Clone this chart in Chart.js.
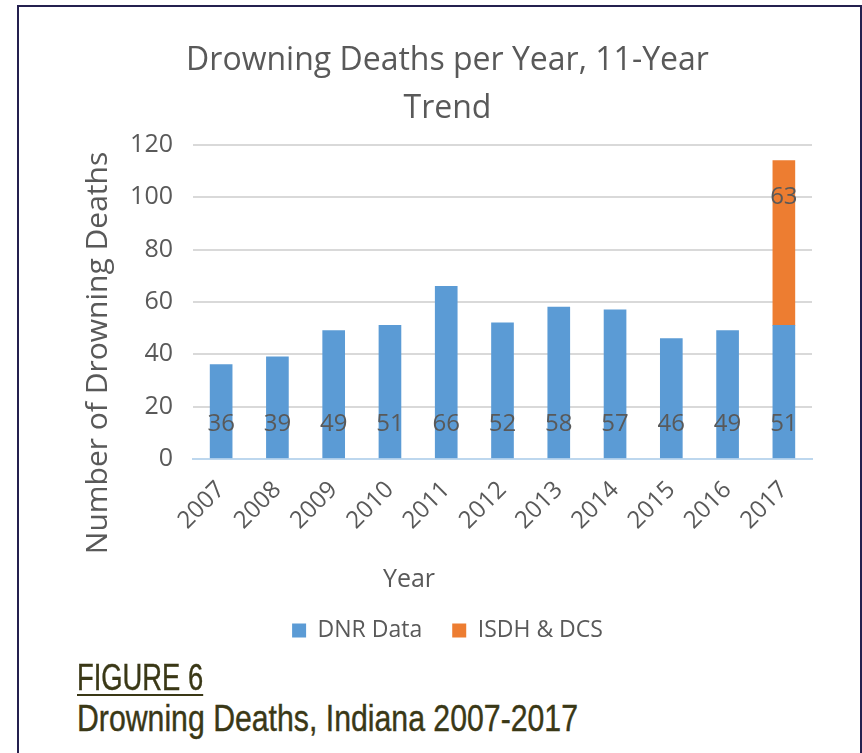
<!DOCTYPE html>
<html lang="en">
<head>
  <meta charset="UTF-8">
  <title>Drowning Deaths, Indiana 2007-2017</title>
  <script src="https://cdn.jsdelivr.net/npm/chart.js"></script>
  <style>
    html, body { margin: 0; padding: 0; background: #fff; overflow: hidden; }
    body { width: 862px; height: 753px; position: relative; }
    .frame {
      position: absolute; left: 17px; top: 5px; width: 845px; height: 800px;
      box-sizing: border-box; border: 2px solid #24204f;
    }
    .chart-box { position: absolute; left: 0; top: 0; width: 862px; height: 660px; }
    .fig-label, .fig-caption {
      position: absolute; left: 77px; margin: 0;
      font-family: "Liberation Sans Narrow", "Arial Narrow", "Liberation Sans", sans-serif;
      font-size: 36px; line-height: 1; color: #3a3816; white-space: nowrap;
      transform-origin: left top; -webkit-text-stroke: 0.4px #3a3816;
    }
    .fig-label {
      top: 660px; transform: scaleX(0.76);
      text-decoration: underline; text-decoration-thickness: 2px; text-underline-offset: 4px;
    }
    .fig-caption { top: 701px; transform: scaleX(0.84); }
  </style>
</head>
<body>
  <div class="frame"></div>
  <div class="chart-box">
    <canvas id="drowningChart"></canvas>
  </div>
  <p class="fig-label">FIGURE 6</p>
  <p class="fig-caption">Drowning Deaths, Indiana 2007-2017</p>

  <script>
    // yearly counts
    const years = ['2007', '2008', '2009', '2010', '2011', '2012', '2013', '2014', '2015', '2016', '2017'];
    const dnrData = [36, 39, 49, 51, 66, 52, 58, 57, 46, 49, 51];
    const isdhData = [null, null, null, null, null, null, null, null, null, null, 63];
    const yTicks = [0, 20, 40, 60, 80, 100, 120];

    const textGray = '#595959';
    const baseFont = '"Open Sans", "Noto Sans", sans-serif';

    // value labels: DNR near the bar base, ISDH near the top of its segment
    const valueLabels = {
      id: 'valueLabels',
      afterDatasetsDraw(chart) {
        const ctx = chart.ctx;
        ctx.save();
        ctx.font = '24px ' + baseFont;
        ctx.fillStyle = textGray;
        ctx.textAlign = 'center';
        ctx.textBaseline = 'middle';
        chart.data.datasets.forEach((ds, i) => {
          chart.getDatasetMeta(i).data.forEach((bar, j) => {
            const v = ds.data[j];
            if (v == null) return;
            const y = i === 0 ? bar.base - 34 : bar.y + 36;
            ctx.fillText(String(v), bar.x, y);
          });
        });
        ctx.restore();
      }
    };

    // axis titles, placed off-centre from the plot
    const axisTitles = {
      id: 'axisTitles',
      afterDraw(chart) {
        const ctx = chart.ctx;
        ctx.save();
        ctx.fillStyle = textGray;
        ctx.textAlign = 'center';
        ctx.textBaseline = 'middle';
        ctx.font = '25px ' + baseFont;
        ctx.fillText('Year', 409, 580);
        ctx.translate(98, 353);
        ctx.rotate(-Math.PI / 2);
        ctx.font = '30px ' + baseFont;
        ctx.fillText('Number of Drowning Deaths', 0, 0);
        ctx.restore();
      }
    };

    const ctx = document.getElementById('drowningChart').getContext('2d');
    new Chart(ctx, {
      type: 'bar',
      data: {
        labels: years,
        datasets: [
          { label: 'DNR Data', data: dnrData, backgroundColor: '#5b9bd5' },
          { label: 'ISDH & DCS', data: isdhData, backgroundColor: '#ed7d31' }
        ]
      },
      options: {
        responsive: true,
        maintainAspectRatio: false,
        animation: false,
        layout: { padding: { top: 37, left: 83, right: 50, bottom: 8 } },
        datasets: { bar: { barThickness: 22 } },
        plugins: {
          title: {
            display: true,
            text: ['Drowning Deaths per Year, 11-Year', 'Trend'],
            color: textGray,
            font: { family: baseFont, size: 32, weight: 'normal', lineHeight: 1.5 },
            padding: { top: 0, bottom: 12 }
          },
          legend: {
            position: 'bottom',
            labels: {
              color: textGray,
              font: { family: baseFont, size: 23 },
              boxWidth: 14,
              boxHeight: 14,
              padding: 30
            }
          },
          tooltip: { enabled: false }
        },
        scales: {
          x: {
            stacked: true,
            grid: { display: false },
            border: { display: true, color: '#bdd7ee', width: 2 },
            ticks: {
              color: textGray,
              font: { family: baseFont, size: 24 },
              maxRotation: 45,
              minRotation: 45,
              padding: 9
            },
            afterFit(scale) { scale.height += 45; }
          },
          y: {
            stacked: true,
            min: 0,
            max: 120,
            afterBuildTicks(scale) { scale.ticks = yTicks.map(v => ({ value: v })); },
            afterFit(scale) { scale.width = 110; },
            grid: { color: '#d9d9d9', lineWidth: 2, drawTicks: false },
            border: { display: false },
            ticks: {
              color: textGray,
              font: { family: baseFont, size: 25 },
              padding: 20
            }
          }
        }
      },
      plugins: [valueLabels, axisTitles]
    });
  </script>
</body>
</html>
